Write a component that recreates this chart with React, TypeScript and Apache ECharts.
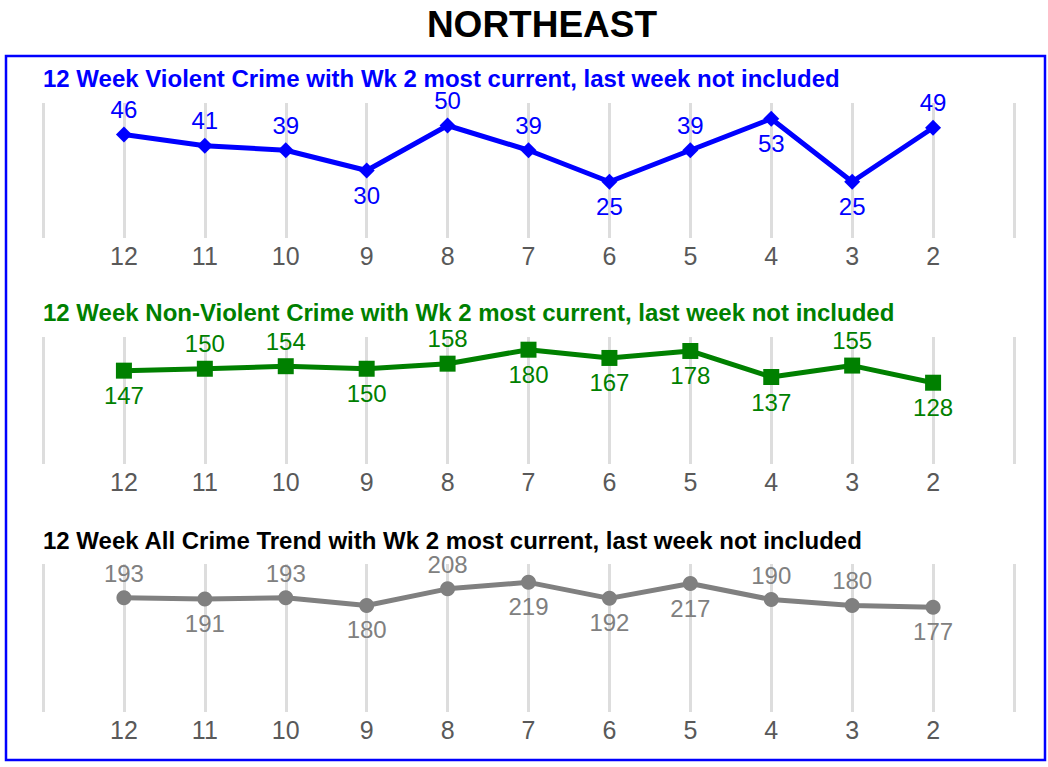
import React, { useEffect, useRef } from "react";
import * as echarts from "echarts";

const weeks = [12, 11, 10, 9, 8, 7, 6, 5, 4, 3, 2];
const violent = [46, 41, 39, 30, 50, 39, 25, 39, 53, 25, 49];
const nonViolent = [147, 150, 154, 150, 158, 180, 167, 178, 137, 155, 128];
const allCrime = [193, 191, 193, 180, 208, 219, 192, 217, 190, 180, 177];

const violentLabelPos = ["top", "top", "top", "bottom", "top", "top", "bottom", "top", "bottom", "bottom", "top"];
const nonViolentLabelPos = ["bottom", "top", "top", "bottom", "top", "bottom", "bottom", "bottom", "bottom", "top", "bottom"];
const allLabelPos = ["top", "bottom", "top", "bottom", "top", "bottom", "bottom", "bottom", "top", "top", "bottom"];

const mainTitle = "NORTHEAST";
const panelTitles = [
  "12 Week Violent Crime with Wk 2 most current, last week not included",
  "12 Week Non-Violent Crime with Wk 2 most current, last week not included",
  "12 Week All Crime Trend with Wk 2 most current, last week not included",
];

const FONT = "'Liberation Sans', Arial, sans-serif";

export default function App() {
  const ref = useRef<HTMLDivElement>(null);
  useEffect(() => {
    if (!ref.current) return;
    const chart = echarts.init(ref.current, undefined, { renderer: "svg" });

    const panels = [
      { top: 103, height: 135, max: 60, data: violent, pos: violentLabelPos, color: "#0000FF", symbol: "diamond", size: 16, titleColor: "#0000FF", titleTop: 68 },
      { top: 337, height: 127, max: 200, data: nonViolent, pos: nonViolentLabelPos, color: "#008000", symbol: "rect", size: 16, titleColor: "#008000", titleTop: 302 },
      { top: 564, height: 148, max: 250, data: allCrime, pos: allLabelPos, color: "#808080", symbol: "circle", size: 15, titleColor: "#000000", titleTop: 530 },
    ];

    const option: any = {
      animation: false,
      backgroundColor: "#ffffff",
      title: [
        {
          text: mainTitle,
          left: 542,
          top: 6,
          textAlign: "center",
          padding: 0,
          textStyle: { fontSize: 37, fontWeight: "bold", color: "#000", fontFamily: FONT },
        },
        ...panels.map((p, i) => ({
          text: panelTitles[i],
          left: 43,
          top: p.titleTop,
          padding: 0,
          textStyle: { fontSize: 24, lineHeight: 20, fontWeight: "bold", color: p.titleColor, fontFamily: FONT },
        })),
      ],
      graphic: [
        {
          type: "rect",
          shape: { x: 6, y: 56, width: 1039, height: 704 },
          style: { fill: "none", stroke: "#0000FF", lineWidth: 2.5 },
          silent: true,
        },
      ],
      grid: panels.map((p) => ({ left: 43, right: 34, top: p.top, height: p.height })),
      xAxis: panels.map((p, i) => ({
        type: "value",
        gridIndex: i,
        inverse: true,
        min: 1,
        max: 13,
        interval: 1,
        axisLine: { show: false },
        axisTick: { show: false },
        splitLine: { show: true, lineStyle: { color: "#dddddd", width: 3 } },
        axisLabel: {
          margin: 5,
          fontSize: 25,
          color: "#595959",
          fontFamily: FONT,
          formatter: (v: number) => (v >= 2 && v <= 12 ? String(v) : ""),
        },
      })),
      yAxis: panels.map((p, i) => ({
        type: "value",
        gridIndex: i,
        min: 0,
        max: p.max,
        show: false,
        splitLine: { show: false },
      })),
      series: panels.map((p, i) => ({
        type: "line",
        xAxisIndex: i,
        yAxisIndex: i,
        symbol: p.symbol,
        symbolSize: p.size,
        lineStyle: { color: p.color, width: 5 },
        itemStyle: { color: p.color },
        data: weeks.map((w, j) => ({
          value: [w, p.data[j]],
          label: { position: p.pos[j] },
        })),
        label: {
          show: true,
          distance: 7,
          fontSize: 24,
          lineHeight: 20,
          color: p.color,
          fontFamily: FONT,
          formatter: (d: any) => String(d.value[1]),
        },
      })),
    };
    chart.setOption(option);
    return () => chart.dispose();
  }, []);
  return (
    <div
      ref={ref}
      style={{ position: "fixed", left: 0, top: 0, width: 1048, height: 767 }}
    />
  );
}
